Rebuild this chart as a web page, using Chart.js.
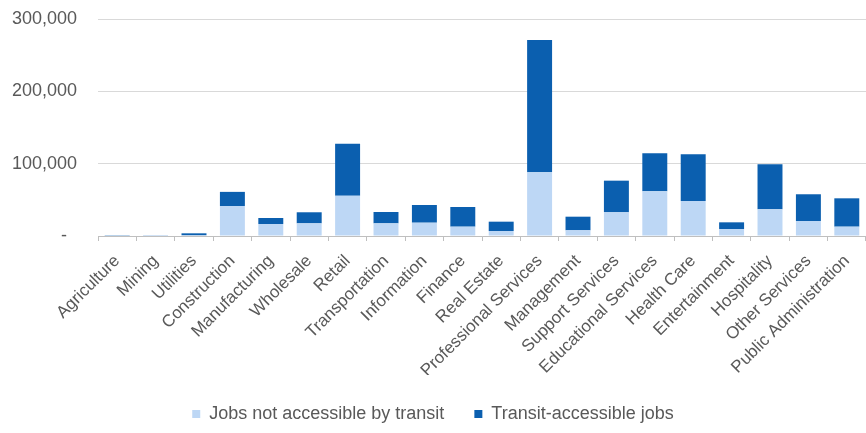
<!DOCTYPE html>
<html>
<head>
<meta charset="utf-8">
<script src="https://cdn.jsdelivr.net/npm/chart.js@4.4.1/dist/chart.umd.min.js"></script>
<style>
  html, body { margin: 0; padding: 0; background: #ffffff; }
  #wrap { width: 866px; height: 433px; }
</style>
</head>
<body>
<div id="wrap"><canvas id="c" width="866" height="433"></canvas></div>
<script>
const categories = ["Agriculture", "Mining", "Utilities", "Construction", "Manufacturing", "Wholesale", "Retail", "Transportation", "Information", "Finance", "Real Estate", "Professional Services", "Management", "Support Services", "Educational Services", "Health Care", "Entertainment", "Hospitality", "Other Services", "Public Administration"];
const notAccessible = [500, 200, 1000, 41500, 16600, 17500, 55700, 17500, 18400, 12900, 6900, 88100, 7900, 32800, 61800, 48400, 9700, 36900, 20700, 12900];
const transitAccessible = [400, 200, 2700, 19500, 8300, 15300, 72000, 15700, 24500, 27200, 12900, 183000, 18800, 43700, 52600, 64600, 9200, 62300, 37000, 39200];
const yTicks = [0, 100000, 200000, 300000];
const seriesNames = ["Jobs not accessible by transit", "Transit-accessible jobs"];

const gray = "#595959";
Chart.defaults.font.family = "'Liberation Sans', Arial, sans-serif";
Chart.defaults.color = gray;

new Chart(document.getElementById("c"), {
  type: "bar",
  data: {
    labels: categories,
    datasets: [
      { label: seriesNames[0], data: notAccessible, backgroundColor: "#BDD7F5", barPercentage: 1, categoryPercentage: 0.65 },
      { label: seriesNames[1], data: transitAccessible, backgroundColor: "#0B5FAF", barPercentage: 1, categoryPercentage: 0.65 }
    ]
  },
  options: {
    responsive: false,
    animation: false,
    layout: { padding: { top: 19, right: 0, left: 0, bottom: 0 } },
    plugins: {
      legend: {
        position: "bottom",
        labels: { boxWidth: 8, boxHeight: 8, padding: 30, font: { size: 18 }, color: gray }
      },
      tooltip: { enabled: false }
    },
    scales: {
      x: {
        stacked: true,
        afterFit: (s) => { s.height = 139; s.paddingRight = 0; },
        grid: { display: true, drawOnChartArea: false, drawTicks: true, tickLength: 5, color: "#bfbfbf", offset: true },
        border: { display: true, color: "#bfbfbf" },
        ticks: { maxRotation: 45, minRotation: 45, font: { size: 17 }, color: gray, padding: 10, autoSkip: false }
      },
      y: {
        stacked: true,
        min: 0,
        max: 300000,
        afterBuildTicks: (s) => { s.ticks = yTicks.map(v => ({ value: v })); },
        afterFit: (s) => { s.width = 98; },
        grid: { color: "#d9d9d9", drawTicks: true, tickLength: 21, tickColor: "rgba(0,0,0,0)" },
        border: { display: false },
        ticks: {
          font: { size: 18 }, color: gray, padding: 0,
          callback: (v) => v === 0 ? "-  " : v.toLocaleString("en-US")
        }
      }
    }
  }
});
</script>
</body>
</html>
